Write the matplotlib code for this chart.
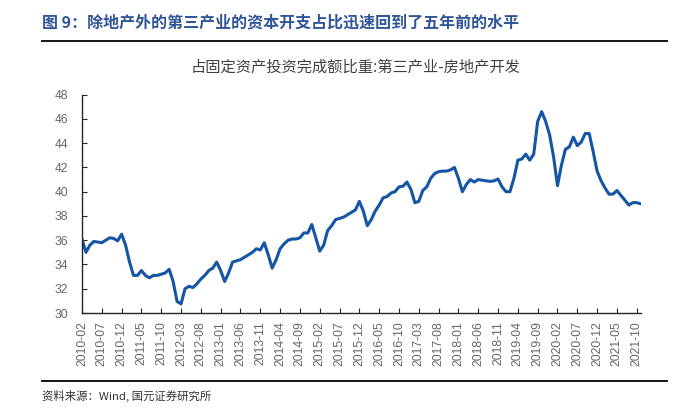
import numpy as np
import pandas as pd
import matplotlib
matplotlib.use("Agg")
import matplotlib.pyplot as plt
from matplotlib.lines import Line2D

# Monthly share of FAI: tertiary industry ex real estate (%), 2010-02 .. 2021-11
start_month = "2010-02"
share = [
    36.1, 35.0, 35.6, 35.9, 35.85, 35.8, 36.0, 36.2, 36.15, 35.95,
    36.5, 35.6, 34.2, 33.1, 33.1, 33.5, 33.1, 32.9, 33.1, 33.1,
    33.2, 33.3, 33.6, 32.6, 30.95, 30.75, 32.0, 32.2, 32.1, 32.4,
    32.8, 33.1, 33.5, 33.7, 34.2, 33.5, 32.6, 33.3, 34.2, 34.3,
    34.4, 34.6, 34.8, 35.0, 35.3, 35.2, 35.8, 34.8, 33.7, 34.4,
    35.3, 35.7, 36.0, 36.1, 36.1, 36.2, 36.6, 36.6, 37.3, 36.2,
    35.1, 35.6, 36.8, 37.2, 37.7, 37.8, 37.9, 38.1, 38.3, 38.5,
    39.2, 38.4, 37.2, 37.7, 38.4, 38.9, 39.5, 39.6, 39.9, 40.0,
    40.4, 40.45, 40.8, 40.2, 39.1, 39.2, 40.1, 40.4, 41.1, 41.5,
    41.65, 41.7, 41.7, 41.8, 42.0, 41.1, 40.0, 40.6, 41.0, 40.8,
    41.0, 40.95, 40.9, 40.85, 40.9, 41.05, 40.4, 40.0, 40.0, 41.1,
    42.6, 42.7, 43.1, 42.6, 43.1, 45.8, 46.6, 45.8, 44.7, 42.9,
    40.5, 42.2, 43.5, 43.7, 44.5, 43.8, 44.1, 44.8, 44.8, 43.3,
    41.7, 40.9, 40.3, 39.8, 39.8, 40.1, 39.7, 39.3, 38.9, 39.1,
    39.1, 39.0,
]

title_text = "图 9：除地产外的第三产业的资本开支占比迅速回到了五年前的水平"
subtitle_text = "占固定资产投资完成额比重:第三产业-房地产开发"
source_text = "资料来源：Wind, 国元证券研究所"

months = pd.period_range(start_month, periods=len(share), freq="M")
month_labels = [m.strftime("%Y-%m") for m in months]

cjk = ["Noto Sans CJK SC", "DejaVu Sans"]
blue = "#1455A4"
grey = "#666666"

fig = plt.figure(figsize=(6.77, 4.09), dpi=100)
ax = fig.add_axes([0.1211, 0.2347, 0.8253, 0.5338])

x = np.arange(len(share))
ax.plot(x, share, color=blue, lw=2.2, solid_joinstyle="round", solid_capstyle="round")

ax.set_xlim(0, len(share) - 1)
ax.set_ylim(30, 48)
ax.set_yticks(np.arange(30, 49, 2))
ax.set_xticks(x[::5])
ax.set_xticklabels(month_labels[::5], rotation=90)

for side in ["top", "right"]:
    ax.spines[side].set_visible(False)
for side in ["left", "bottom"]:
    ax.spines[side].set_color("#262626")
    ax.spines[side].set_linewidth(1.0)

ax.tick_params(axis="both", direction="in", length=3.5, width=0.8, color="#262626",
               labelcolor=grey, labelsize=8.7)
ax.tick_params(axis="y", pad=10)
ax.tick_params(axis="x", pad=6)
for lab in ax.get_xticklabels() + ax.get_yticklabels():
    lab.set_family("Liberation Sans")

# header, rules and footer
fig.text(0.062, 0.946, title_text, color="#2F5597", fontsize=11.5, fontweight="bold",
         family=cjk, va="center", ha="left")
fig.add_artist(Line2D([0.062, 0.985], [0.8998, 0.8998], color="black", lw=1.3,
                      transform=fig.transFigure))
fig.text(0.525, 0.836, subtitle_text, color="#404040", fontsize=11, family=cjk,
         va="center", ha="center")
fig.add_artist(Line2D([0.062, 0.985], [0.0685, 0.0685], color="black", lw=1.3,
                      transform=fig.transFigure))
fig.text(0.062, 0.032, source_text, color="#333333", fontsize=8.2, family=cjk,
         va="center", ha="left")

fig.savefig("out.png", dpi=100)
